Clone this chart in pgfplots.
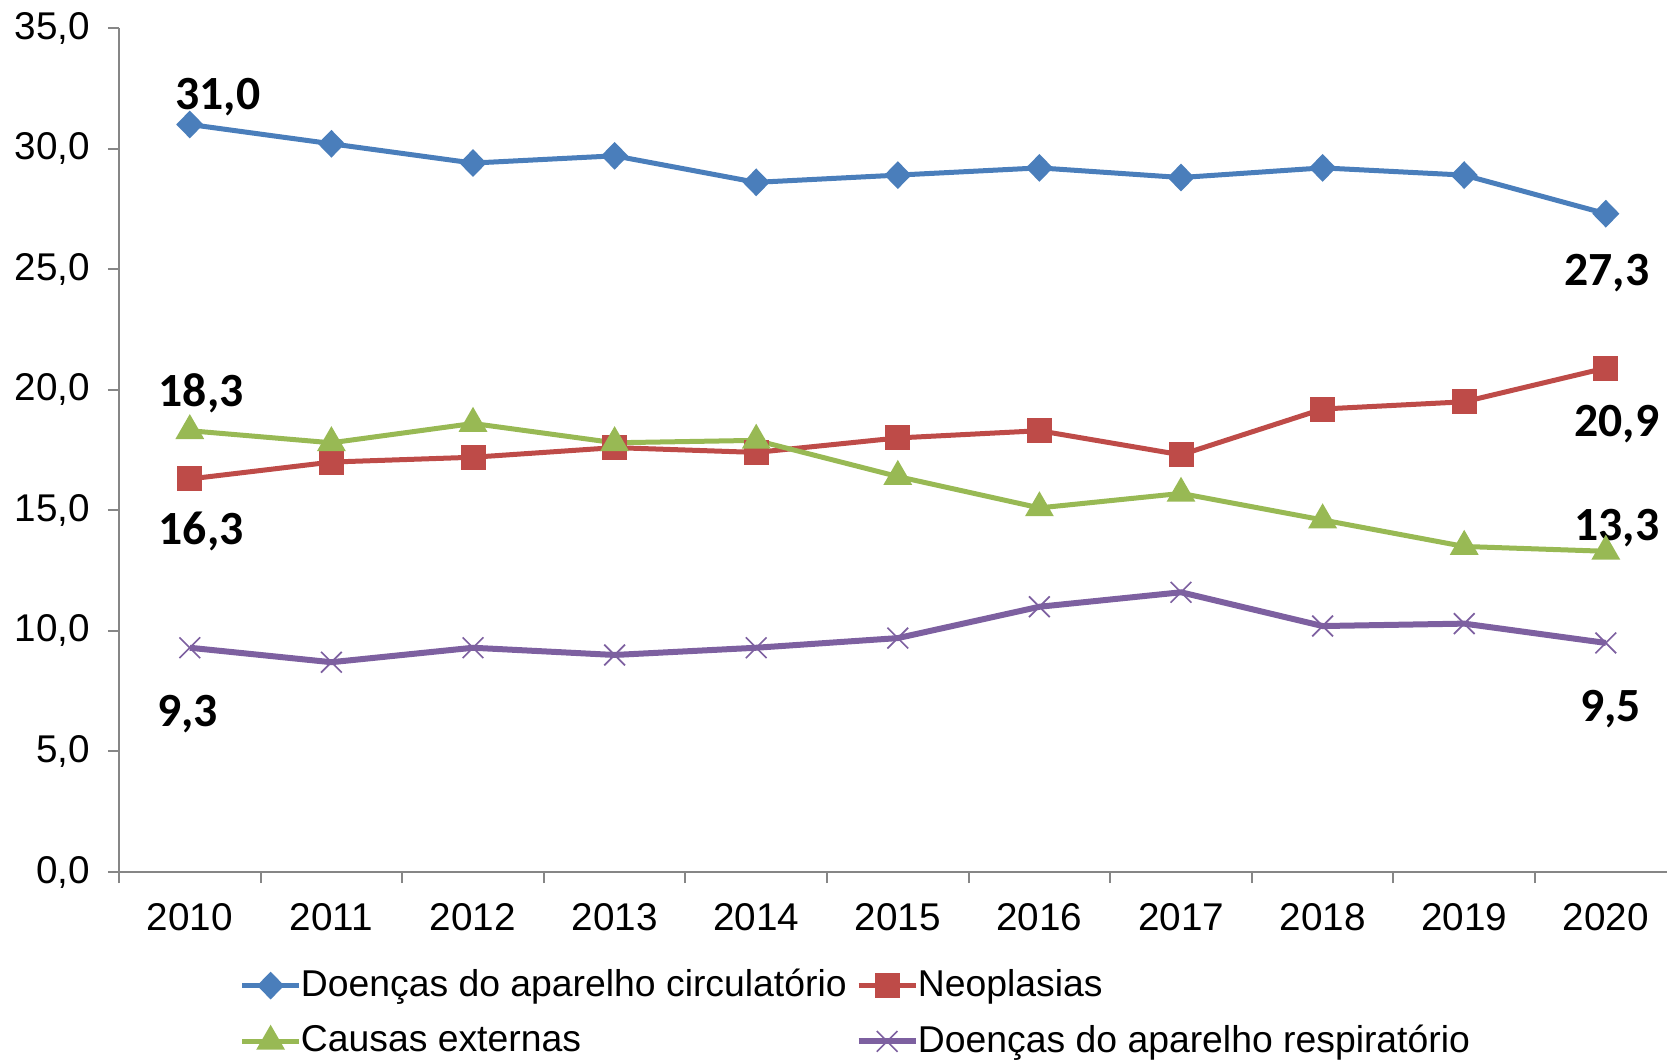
\documentclass[border=0pt]{standalone}
\usepackage{fontspec}
\setmainfont{Liberation Sans}
\newfontfamily\lblfont{Carlito}
\usepackage{pgfplots}
\pgfplotsset{compat=1.18}
\definecolor{cblue}{HTML}{4A7EBB}
\definecolor{cred}{HTML}{BE4B48}
\definecolor{cgreen}{HTML}{98B954}
\definecolor{cpurple}{HTML}{7D60A0}
\definecolor{axisgray}{HTML}{868686}
\begin{document}
\begin{tikzpicture}
\path[use as bounding box] (-35.7pt,-56.7pt) rectangle (464.4pt,261.6pt);
\begin{axis}[
  at={(0,0)}, anchor=south west,
  x=42.48pt, y=7.234pt,
  xmin=-0.5, xmax=10.5, ymin=0, ymax=35,
  axis lines*=left,
  axis line style={color=axisgray, line width=0.6pt},
  xtick={0,...,10},
  xticklabels={2010,2011,2012,2013,2014,2015,2016,2017,2018,2019,2020},
  major x tick style={draw=none},
  minor xtick={-0.5,0.5,...,9.5},
  ytick={0,5,...,35},
  tick align=outside,
  major tick length=3.3pt, minor tick length=3.3pt,
  tick style={color=axisgray, line width=0.6pt},
  y tick label style={/pgf/number format/.cd, fixed, fixed zerofill, precision=1, use comma, /tikz/.cd, xshift=-1.9pt},
  x tick label style={yshift=-2.6pt},
  /pgf/number format/assume math mode=true,
  tick label style={font=\fontsize{11.6}{13}\selectfont, color=black},
  clip=false,
  legend columns=2,
  legend cell align=left,
  legend style={at={(0,0)}, anchor=north west, xshift=36pt, yshift=-27pt,
    draw=none, fill=none, inner sep=0pt,
    font=\fontsize{11.2}{13}\selectfont, row sep=3pt,
    /tikz/every odd column/.append style={column sep=-2.2pt},
    /tikz/every even column/.append style={column sep=0.7pt}},
]
\addplot[color=cblue, line width=1.5pt, mark=diamond*, mark size=3.1pt, mark options={solid, xscale=1.3}]
 coordinates {(0,31.0) (1,30.2) (2,29.4) (3,29.7) (4,28.6) (5,28.9) (6,29.2) (7,28.8) (8,29.2) (9,28.9) (10,27.3)};
\addlegendentry{Doenças do aparelho circulatório}
\addplot[color=cred, line width=1.5pt, mark=square*, mark size=3pt, mark options={solid}]
 coordinates {(0,16.3) (1,17.0) (2,17.2) (3,17.6) (4,17.4) (5,18.0) (6,18.3) (7,17.3) (8,19.2) (9,19.5) (10,20.9)};
\addlegendentry{Neoplasias}
\addplot[color=cgreen, line width=1.5pt, mark=triangle*, mark size=3.5pt, mark options={solid}]
 coordinates {(0,18.3) (1,17.8) (2,18.6) (3,17.8) (4,17.9) (5,16.4) (6,15.1) (7,15.7) (8,14.6) (9,13.5) (10,13.3)};
\addlegendentry{Causas externas}
\addplot[color=cpurple, line width=1.8pt, mark=x, mark size=4.4pt, mark options={solid, line width=0.5pt}]
 coordinates {(0,9.3) (1,8.7) (2,9.3) (3,9.0) (4,9.3) (5,9.7) (6,11.0) (7,11.6) (8,10.2) (9,10.3) (10,9.5)};
\addlegendentry{Doenças do aparelho respiratório}
\tikzset{dl/.style={font=\lblfont\bfseries\fontsize{14.3}{16}\selectfont, anchor=center, inner sep=0pt}}
\node[dl, xshift=8.4pt, yshift=8.2pt] at (axis cs:0,31.0) {31,0};
\node[dl, xshift=3.4pt, yshift=11.2pt] at (axis cs:0,18.3) {18,3};
\node[dl, xshift=3.4pt, yshift=-15.8pt] at (axis cs:0,16.3) {16,3};
\node[dl, xshift=-0.6pt, yshift=-19.9pt] at (axis cs:0,9.3) {9,3};
\node[dl, xshift=0.3pt, yshift=-17.7pt] at (axis cs:10,27.3) {27,3};
\node[dl, xshift=3.3pt, yshift=-16.8pt] at (axis cs:10,20.9) {20,9};
\node[dl, xshift=3.3pt, yshift=7.0pt] at (axis cs:10,13.3) {13,3};
\node[dl, xshift=1.5pt, yshift=-20pt] at (axis cs:10,9.5) {9,5};
\end{axis}
\end{tikzpicture}
\end{document}
